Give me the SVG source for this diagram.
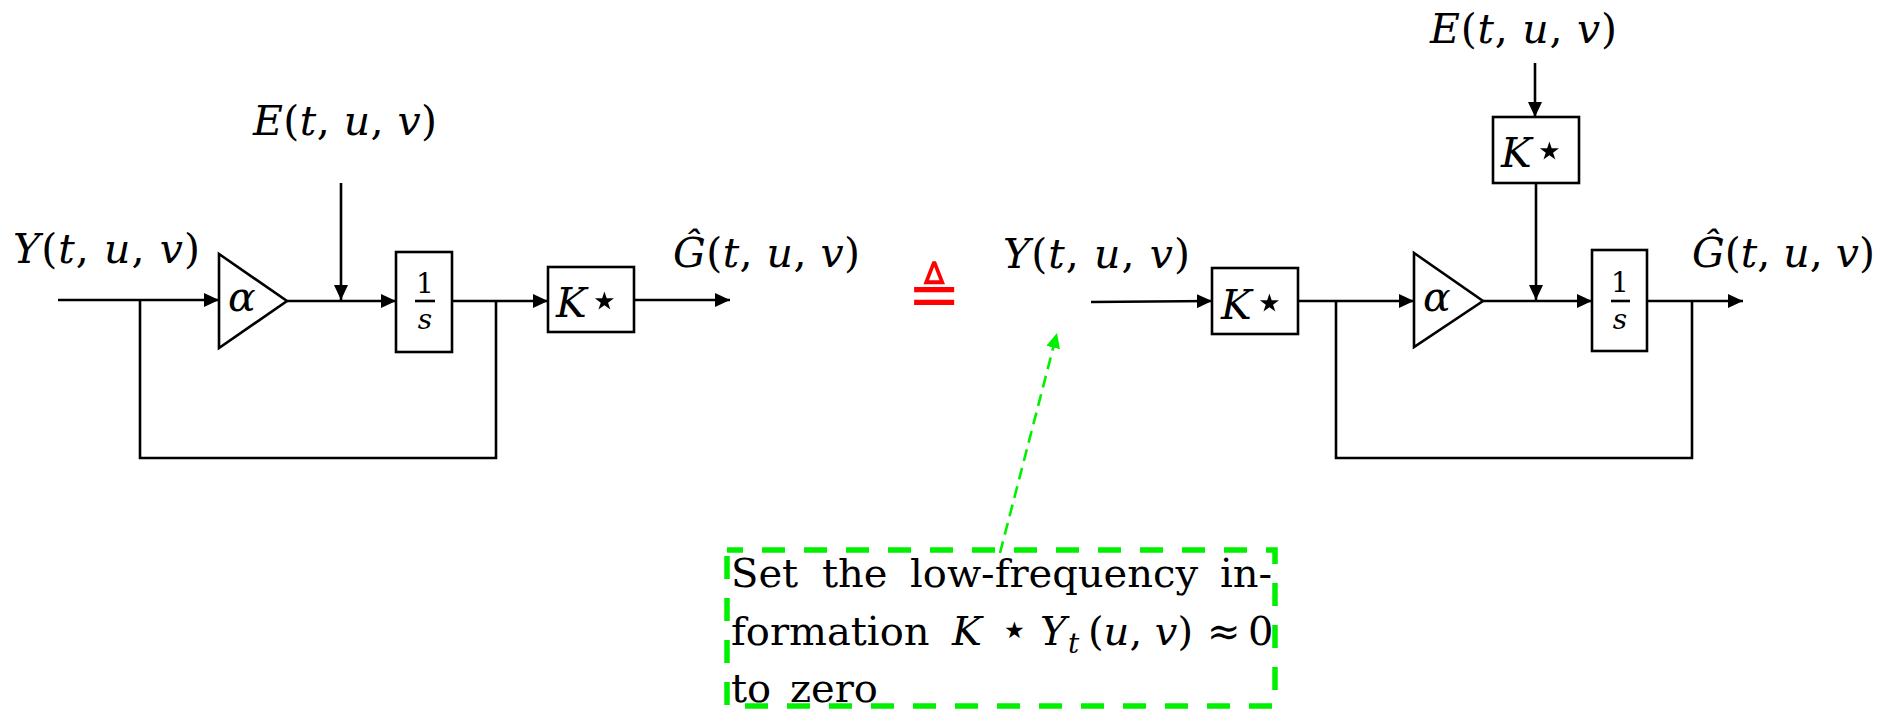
<svg xmlns="http://www.w3.org/2000/svg" width="1882" height="710" viewBox="0 0 1882 710">
<style>
.bg{fill:#fff}
.ln{stroke:#000;stroke-width:2.6;fill:none}
.blk{stroke:#000;stroke-width:2.6;fill:#fff}
.m{font-family:'DejaVu Serif',serif;font-size:41px;fill:#000}
.i{font-style:italic}
.st{font-family:'DejaVu Sans',sans-serif;font-size:50px;font-style:normal}
.fr{font-family:'DejaVu Serif',serif;font-size:28px;fill:#000;text-anchor:middle}
.note{font-family:'DejaVu Serif',serif;font-size:40px;fill:#000}
.gbox{fill:none;stroke:#00f000;stroke-width:5.5;stroke-dasharray:23 19;stroke-dashoffset:7}
.garr{stroke:#00f000;stroke-width:2.6;fill:none;stroke-dasharray:12 7}
</style>
<defs>
<marker id="ah" markerUnits="userSpaceOnUse" markerWidth="16" markerHeight="14" refX="15" refY="7" orient="auto">
<path d="M0,0 L15,7 L0,14 z" fill="#000"/>
</marker>
<marker id="gah" markerUnits="userSpaceOnUse" markerWidth="16" markerHeight="14" refX="15" refY="7" orient="auto">
<path d="M0,0 L15,7 L0,14 z" fill="#00f000"/>
</marker>
</defs>
<rect class="bg" x="0" y="0" width="1882" height="710"/>

<g id="connectors">
<line class="ln" x1="58" y1="300" x2="219" y2="300" marker-end="url(#ah)"/>
<polyline class="ln" points="140,300 140,458 496,458 496,301"/>
<line class="ln" x1="287" y1="301" x2="396" y2="301" marker-end="url(#ah)"/>
<line class="ln" x1="341" y1="183" x2="341" y2="300" marker-end="url(#ah)"/>
<line class="ln" x1="452" y1="301" x2="548" y2="301" marker-end="url(#ah)"/>
<line class="ln" x1="634" y1="300" x2="730" y2="300" marker-end="url(#ah)"/>

<line class="ln" x1="1091" y1="302" x2="1212" y2="301" marker-end="url(#ah)"/>
<line class="ln" x1="1298" y1="301" x2="1414" y2="301" marker-end="url(#ah)"/>
<polyline class="ln" points="1336,301 1336,458 1692,458 1692,301"/>
<line class="ln" x1="1535" y1="63" x2="1535" y2="117" marker-end="url(#ah)"/>
<line class="ln" x1="1536" y1="183" x2="1536" y2="300" marker-end="url(#ah)"/>
<line class="ln" x1="1483" y1="301" x2="1592" y2="301" marker-end="url(#ah)"/>
<line class="ln" x1="1647" y1="301" x2="1743" y2="301" marker-end="url(#ah)"/>

<line class="garr" x1="1000" y1="553" x2="1057" y2="333" marker-end="url(#gah)"/>
</g>

<g id="left-Y">
<text class="m" x="13" y="263" textLength="187" lengthAdjust="spacing"><tspan class="i">Y</tspan>(<tspan class="i">t</tspan>, <tspan class="i">u</tspan>, <tspan class="i">v</tspan>)</text>
</g>
<g id="left-E">
<text class="m" x="253" y="135" textLength="184" lengthAdjust="spacing"><tspan class="i">E</tspan>(<tspan class="i">t</tspan>, <tspan class="i">u</tspan>, <tspan class="i">v</tspan>)</text>
</g>
<g id="left-alpha">
<polygon class="blk" points="219,254 219,348 287,301"/>
<text class="m i" x="228" y="311">α</text>
</g>
<g id="left-int">
<rect class="blk" x="396" y="252" width="56" height="100"/>
<text class="fr" x="425" y="293">1</text>
<line class="ln" x1="415" y1="301" x2="435" y2="301"/>
<text class="fr i" x="425" y="329">s</text>
</g>
<g id="left-K">
<rect class="blk" x="548" y="267" width="86" height="65"/>
<text class="m" x="556" y="317"><tspan class="i">K</tspan><tspan class="st" dx="2">⋆</tspan></text>
</g>
<g id="left-G">
<text class="m" x="673" y="267" textLength="187" lengthAdjust="spacing"><tspan class="i">Ĝ</tspan>(<tspan class="i">t</tspan>, <tspan class="i">u</tspan>, <tspan class="i">v</tspan>)</text>
</g>

<g id="equiv">
<text x="934" y="316" text-anchor="middle" style="font-family:'DejaVu Sans',sans-serif;font-size:64px;fill:#f00">≜</text>
</g>

<g id="right-Y">
<text class="m" x="1003" y="268" textLength="187" lengthAdjust="spacing"><tspan class="i">Y</tspan>(<tspan class="i">t</tspan>, <tspan class="i">u</tspan>, <tspan class="i">v</tspan>)</text>
</g>
<g id="right-K-in">
<rect class="blk" x="1212" y="268" width="86" height="66"/>
<text class="m" x="1221" y="319"><tspan class="i">K</tspan><tspan class="st" dx="2">⋆</tspan></text>
</g>
<g id="right-alpha">
<polygon class="blk" points="1414,253 1414,347 1483,301"/>
<text class="m i" x="1423" y="311">α</text>
</g>
<g id="right-E">
<text class="m" x="1430" y="43" textLength="187" lengthAdjust="spacing"><tspan class="i">E</tspan>(<tspan class="i">t</tspan>, <tspan class="i">u</tspan>, <tspan class="i">v</tspan>)</text>
</g>
<g id="right-K-E">
<rect class="blk" x="1493" y="117" width="86" height="66"/>
<text class="m" x="1501" y="167"><tspan class="i">K</tspan><tspan class="st" dx="2">⋆</tspan></text>
</g>
<g id="right-int">
<rect class="blk" x="1592" y="250" width="55" height="101"/>
<text class="fr" x="1620" y="292">1</text>
<line class="ln" x1="1611" y1="301" x2="1630" y2="301"/>
<text class="fr i" x="1620" y="329">s</text>
</g>
<g id="right-G">
<text class="m" x="1692" y="267" textLength="183" lengthAdjust="spacing"><tspan class="i">Ĝ</tspan>(<tspan class="i">t</tspan>, <tspan class="i">u</tspan>, <tspan class="i">v</tspan>)</text>
</g>

<g id="note">
<rect class="gbox" x="727" y="550" width="548" height="156"/>
<text class="note" y="587"><tspan x="731">Set</tspan><tspan x="822">the</tspan><tspan x="910">low-frequency</tspan><tspan x="1220">in-</tspan></text>
<text class="note" y="645"><tspan x="731">formation</tspan><tspan x="952" class="i">K</tspan><tspan x="1000" class="st" style="font-size:46px">⋆</tspan><tspan x="1040" class="i">Y</tspan><tspan x="1068" dy="8" class="i" style="font-size:28px">t</tspan><tspan x="1088" dy="-8">(</tspan><tspan class="i">u</tspan>, <tspan class="i">v</tspan>)<tspan x="1207">≈</tspan><tspan x="1248">0</tspan></text>
<text class="note" y="702"><tspan x="731">to</tspan><tspan x="790">zero</tspan></text>
</g>
</svg>
